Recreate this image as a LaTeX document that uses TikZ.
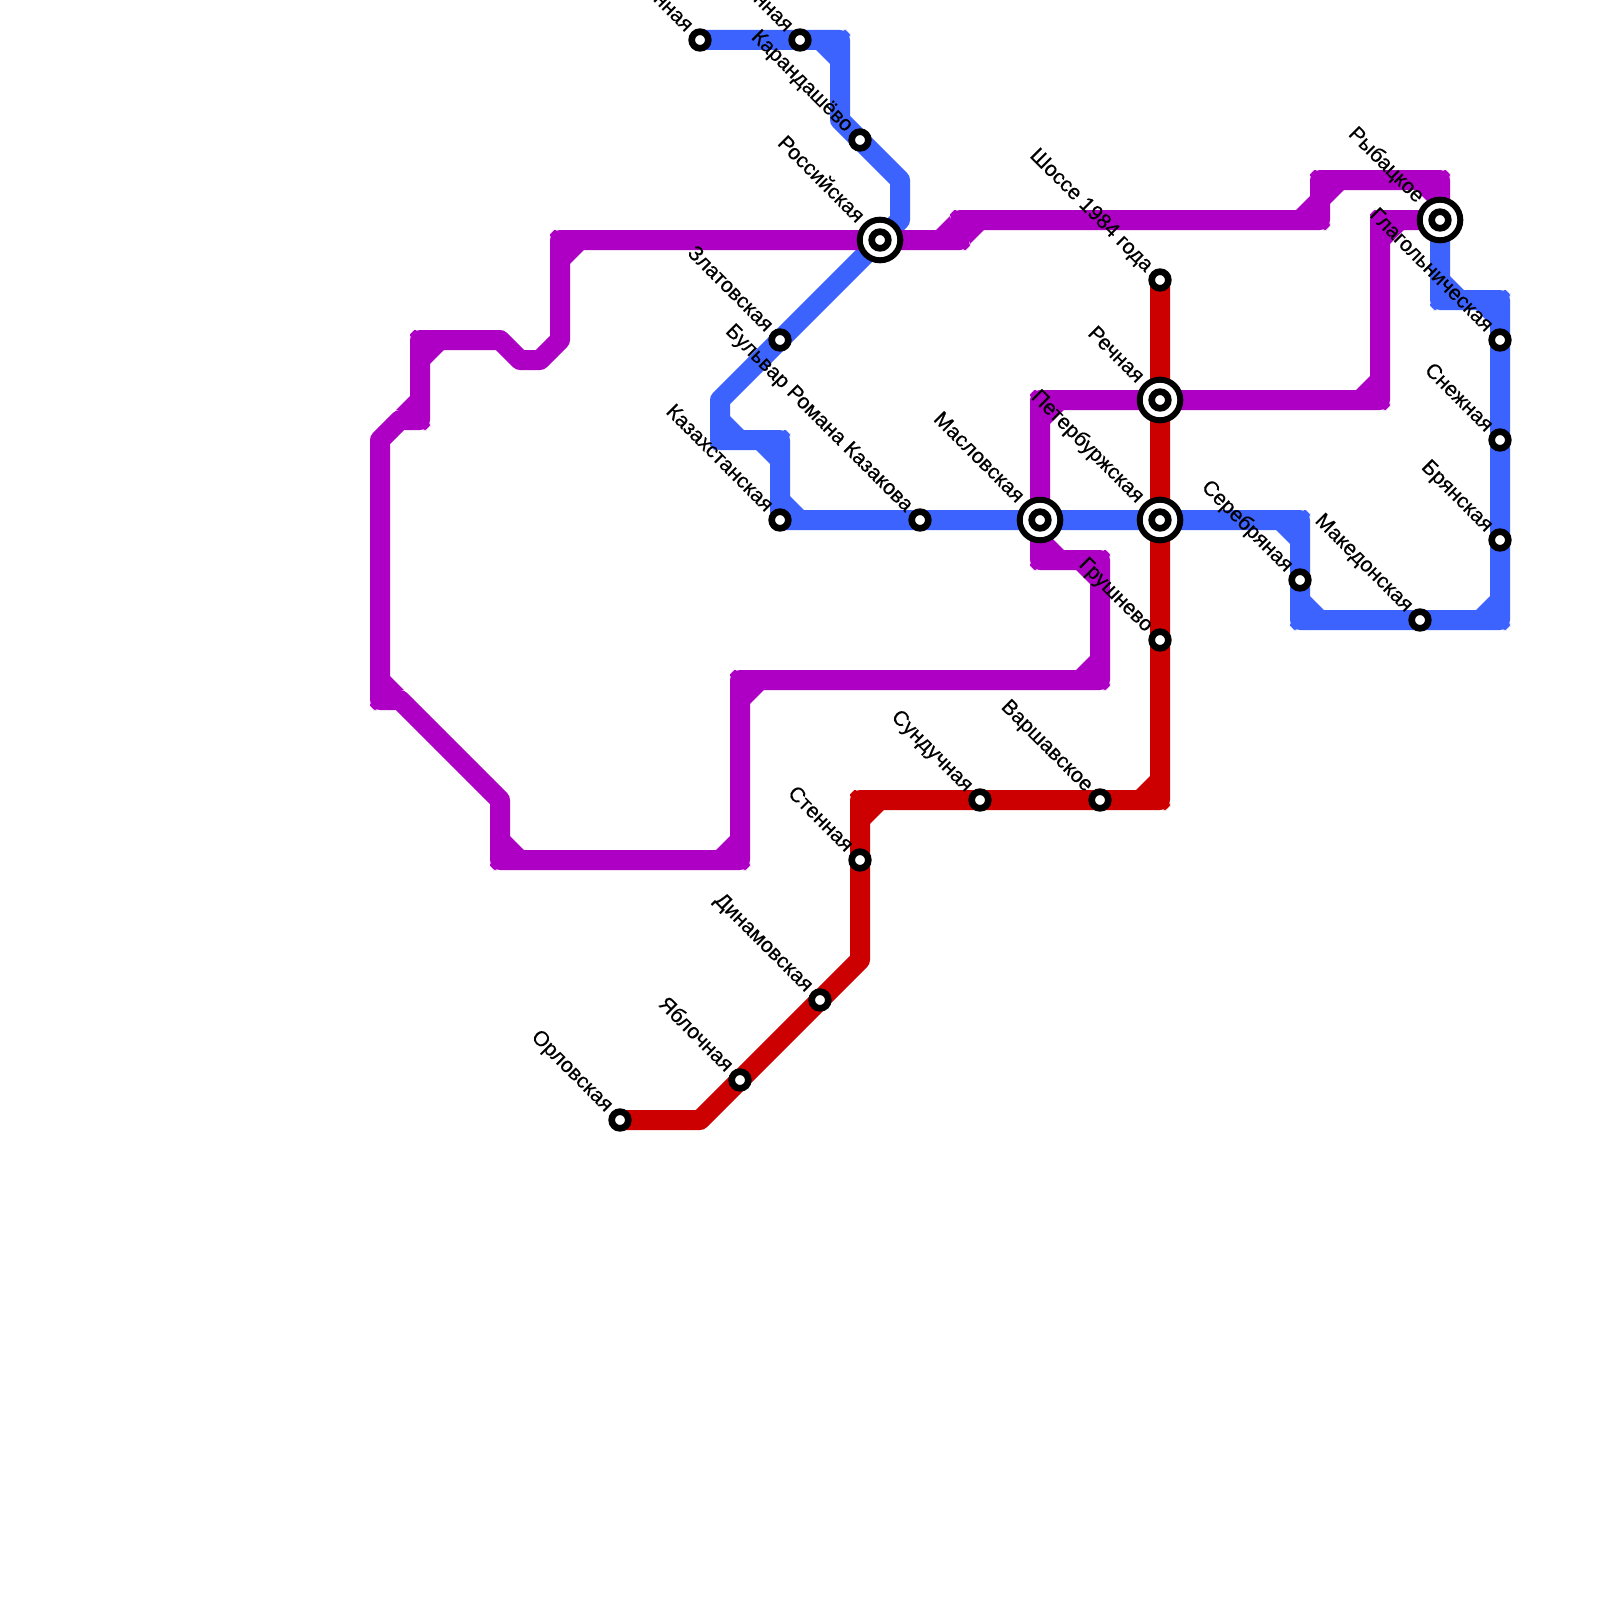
\documentclass[tikz,border=0pt]{standalone}
\usepackage{fontspec}
\setmainfont[FakeBold=0.35]{Liberation Sans}
\usetikzlibrary{calc}
\definecolor{lblue}{HTML}{3D63FF}
\definecolor{lpurple}{HTML}{AE00C4}
\definecolor{lred}{HTML}{CC0000}
\tikzset{
  metro/.style={line width=10pt,line join=round,line cap=round},
  station/.style={circle,draw=black,fill=white,line width=3.33pt,minimum size=8.33pt,inner sep=0pt,outer sep=0pt},
  hub/.style={circle,draw=black,fill=white,line width=3pt,minimum size=20.3pt,inner sep=0pt,outer sep=0pt},
  lbl/.style={anchor=mid east,rotate=-45,inner sep=0pt,outer sep=0pt,font=\fontsize{10.5}{12}\selectfont,text=black}
}
% right-angled bend: bend x, y, sign towards the inside dx, dy
% fills the inner chamfer and squares up the outer corner to a small radius
\newcommand{\cham}[5]{\fill[#1] ({#2+10*#4},{#3+10*#5}) -- ({#2+23.8*#4},{#3+10*#5}) -- ({#2+10*#4},{#3+23.8*#5}) -- cycle;
  \fill[#1,rounded corners=3.5pt] (#2,#3) -- ({#2-10*#4},#3) -- ({#2-10*#4},{#3-10*#5}) -- (#2,{#3-10*#5}) -- cycle;}
\newcommand{\lab}[2]{\node[lbl] (l#1) at ($(#1)+(-11,-11)$) {#2};}
\newcommand{\labh}[2]{\node[lbl] (l#1) at ($(#1)+(-20,-20)$) {#2};}
\newcommand{\stn}[1]{\node[station] (n#1) at (#1) {};}
\newcommand{\hubstn}[1]{\node[hub] (h#1) at (#1) {}; \node[station] (n#1) at (#1) {};}
\begin{document}
\begin{tikzpicture}[x=0.5pt,y=-0.5pt]
\useasboundingbox (0,0) rectangle (1600,1600);
\fill[white] (0,0) rectangle (1600,1600);
% blue stations
\coordinate (a1) at (700,40);
\coordinate (a2) at (800,40);
\coordinate (kar) at (860,140);
\coordinate (ros) at (880,240);
\coordinate (zla) at (780,340);
\coordinate (kaz) at (780,520);
\coordinate (bul) at (920,520);
\coordinate (mas) at (1040,520);
\coordinate (pet) at (1160,520);
\coordinate (ser) at (1300,580);
\coordinate (mak) at (1420,620);
\coordinate (bry) at (1500,540);
\coordinate (sne) at (1500,440);
\coordinate (gla) at (1500,340);
\coordinate (ryb) at (1440,220);
% red stations
\coordinate (sho) at (1160,280);
\coordinate (rec) at (1160,400);
\coordinate (gru) at (1160,640);
\coordinate (var) at (1100,800);
\coordinate (sun) at (980,800);
\coordinate (ste) at (860,860);
\coordinate (din) at (820,1000);
\coordinate (yab) at (740,1080);
\coordinate (orl) at (620,1120);
% blue line
\draw[metro,lblue] (a1) -- (a2) -- (840,40) -- (840,120) -- (kar) -- (900,180) -- (900,220) -- (ros) -- (zla) -- (720,400) -- (720,440) -- (780,440) -- (kaz) -- (bul) -- (mas) -- (pet) -- (1300,520) -- (ser) -- (1300,620) -- (mak) -- (1500,620) -- (bry) -- (sne) -- (gla) -- (1500,300) -- (1440,300) -- (ryb);
\cham{lblue}{840}{40}{-1}{1}
\cham{lblue}{720}{440}{1}{-1}
\cham{lblue}{780}{440}{-1}{1}
\cham{lblue}{780}{520}{1}{-1}
\cham{lblue}{1300}{520}{-1}{1}
\cham{lblue}{1300}{620}{1}{-1}
\cham{lblue}{1500}{620}{-1}{-1}
\cham{lblue}{1500}{300}{-1}{1}
\cham{lblue}{1440}{300}{1}{-1}
% purple line
\draw[metro,lpurple] (ros) -- (960,240) -- (960,220) -- (1320,220) -- (1320,180) -- (1440,180) -- (ryb) -- (1380,220) -- (1380,400) -- (rec) -- (1040,400) -- (mas) -- (1040,560) -- (1100,560) -- (1100,680) -- (740,680) -- (740,860) -- (500,860) -- (500,800) -- (400,700) -- (380,700) -- (380,440) -- (400,420) -- (420,420) -- (420,340) -- (500,340) -- (520,360) -- (540,360) -- (560,340) -- (560,240) -- (ros);
\cham{lpurple}{960}{240}{-1}{-1}
\cham{lpurple}{960}{220}{1}{1}
\cham{lpurple}{1320}{220}{-1}{-1}
\cham{lpurple}{1320}{180}{1}{1}
\cham{lpurple}{1440}{180}{-1}{1}
\cham{lpurple}{1380}{220}{1}{1}
\cham{lpurple}{1380}{400}{-1}{-1}
\cham{lpurple}{1040}{400}{1}{1}
\cham{lpurple}{1040}{560}{1}{-1}
\cham{lpurple}{1100}{560}{-1}{1}
\cham{lpurple}{1100}{680}{-1}{-1}
\cham{lpurple}{740}{680}{1}{1}
\cham{lpurple}{740}{860}{-1}{-1}
\cham{lpurple}{500}{860}{1}{-1}
\cham{lpurple}{380}{700}{1}{-1}
\cham{lpurple}{420}{420}{-1}{-1}
\cham{lpurple}{420}{340}{1}{1}
\cham{lpurple}{560}{240}{1}{1}
% red line
\draw[metro,lred] (sho) -- (rec) -- (pet) -- (gru) -- (1160,800) -- (var) -- (sun) -- (860,800) -- (ste) -- (860,960) -- (din) -- (yab) -- (700,1120) -- (orl);
\cham{lred}{1160}{800}{-1}{-1}
\cham{lred}{860}{800}{1}{1}
% stations
\stn{a1}\stn{a2}\stn{kar}\stn{zla}\stn{kaz}\stn{bul}\stn{ser}\stn{mak}\stn{bry}\stn{sne}\stn{gla}
\stn{sho}\stn{gru}\stn{var}\stn{sun}\stn{ste}\stn{din}\stn{yab}\stn{orl}
\hubstn{ros}\hubstn{mas}\hubstn{pet}\hubstn{rec}\hubstn{ryb}
% labels
\lab{a1}{нная}
\lab{a2}{нная}
\lab{kar}{Карандашёво}
\labh{ros}{Российская}
\lab{zla}{Златовская}
\lab{bul}{Бульвар Романа Казакова}
\lab{kaz}{Казахстанская}
\labh{mas}{Масловская}
\labh{pet}{Петербуржская}
\labh{rec}{Речная}
\labh{ryb}{Рыбацкое}
\lab{sho}{Шоссе 1984 года}
\lab{gru}{Грушнево}
\lab{ser}{Серебряная}
\lab{mak}{Македонская}
\lab{gla}{Глагольническая}
\lab{sne}{Снежная}
\lab{bry}{Брянская}
\lab{var}{Варшавское}
\lab{sun}{Сундучная}
\lab{ste}{Стенная}
\lab{din}{Динамовская}
\lab{yab}{Яблочная}
\lab{orl}{Орловская}
\end{tikzpicture}
\end{document}
